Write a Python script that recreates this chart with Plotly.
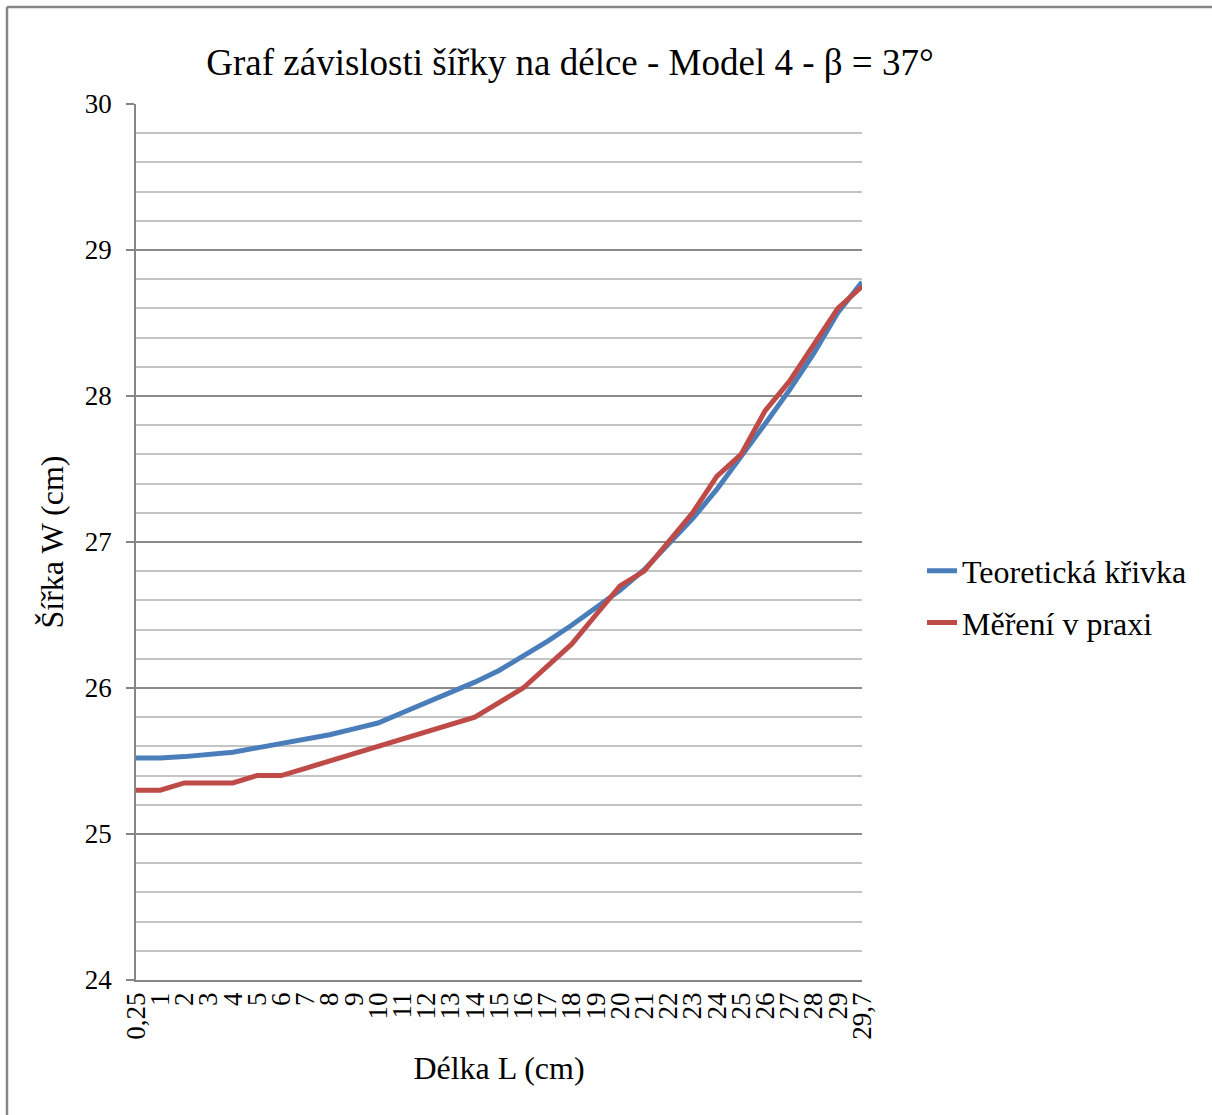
import plotly.graph_objects as go

# Length categories (cm) as shown on the horizontal axis
delka = ["0,25"] + [str(i) for i in range(1, 30)] + ["29,7"]

# Theoretical width curve (cm)
teoreticka = [25.52, 25.52, 25.53, 25.545, 25.56, 25.59, 25.62, 25.65, 25.68, 25.72,
              25.76, 25.83, 25.90, 25.97, 26.04, 26.12, 26.22, 26.32, 26.43, 26.55,
              26.67, 26.81, 26.98, 27.16, 27.36, 27.58, 27.81, 28.04, 28.29, 28.57,
              28.78]

# Measured width (cm)
mereni = [25.30, 25.30, 25.35, 25.35, 25.35, 25.40, 25.40, 25.45, 25.50, 25.55,
          25.60, 25.65, 25.70, 25.75, 25.80, 25.90, 26.00, 26.15, 26.30, 26.50,
          26.70, 26.80, 27.00, 27.20, 27.45, 27.60, 27.90, 28.10, 28.35, 28.60,
          28.75]

y_ticks = [24, 25, 26, 27, 28, 29, 30]

FONT = "Liberation Serif, Times New Roman, serif"
AXIS_GREY = "#868686"

fig = go.Figure()
fig.add_trace(go.Scatter(x=delka, y=teoreticka, mode="lines", name="Teoretická křivka",
                         legendgroup="a",
                         line=dict(color="#4a7ebb", width=5)))
fig.add_trace(go.Scatter(x=delka, y=mereni, mode="lines", name="Měření v praxi",
                         legendgroup="b",
                         line=dict(color="#be4b48", width=5)))

L, R, T, B = 136, 862, 104, 980
W, H = 1212, 1115
pw, ph = R - L, B - T


def px(x):
    return (x - L) / pw


def py(y):
    return (B - y) / ph


# outer frame of the chart area
fig.add_shape(type="line", xref="paper", yref="paper", x0=px(7), x1=px(7),
              y0=py(7), y1=py(1125), line=dict(color=AXIS_GREY, width=2.5))
fig.add_shape(type="line", xref="paper", yref="paper", x0=px(7), x1=px(1225),
              y0=py(7), y1=py(7), line=dict(color=AXIS_GREY, width=2.5))

fig.update_layout(
    width=W, height=H,
    margin=dict(l=L, r=W - R, t=T, b=H - B, pad=0),
    paper_bgcolor="white", plot_bgcolor="white",
    font=dict(family=FONT, color="black", size=27),
    title=dict(text="Graf závislosti šířky na délce - Model 4 - β = 37°",
               font=dict(family=FONT, size=37, color="black"),
               xref="container", x=570 / W, xanchor="center",
               yref="container", y=1 - 62 / H, yanchor="middle"),
    showlegend=True,
    legend=dict(x=px(922), xanchor="left", y=py(597), yanchor="middle",
                font=dict(family=FONT, size=32, color="black"),
                bgcolor="rgba(0,0,0,0)", traceorder="grouped", tracegroupgap=7),
    xaxis=dict(
        type="category", range=[0, len(delka) - 1],
        tickmode="linear", dtick=1,
        showgrid=False, zeroline=False,
        showline=True, linecolor=AXIS_GREY, linewidth=1.5,
        ticks="", tickangle=-90, tickfont=dict(family=FONT, size=27),
        ticklabelstandoff=0,
        title=dict(text="Délka L (cm)", font=dict(family=FONT, size=32), standoff=18),
    ),
    yaxis=dict(
        range=[24, 30], tickvals=y_ticks, ticktext=[str(v) for v in y_ticks],
        showgrid=True, gridcolor="#8a8a8a", gridwidth=1.5,
        zeroline=False,
        showline=True, linecolor=AXIS_GREY, linewidth=1.5,
        ticks="outside", ticklen=8, tickcolor=AXIS_GREY, tickwidth=1.5,
        tickfont=dict(family=FONT, size=27), ticklabelstandoff=9,
        minor=dict(dtick=0.2, tick0=24, showgrid=True, gridcolor="#c4c4c4", gridwidth=1.5,
                   ticks=""),
        title=dict(text="Šířka W (cm)", font=dict(family=FONT, size=32), standoff=12),
    ),
)

fig.write_html("out.html")
